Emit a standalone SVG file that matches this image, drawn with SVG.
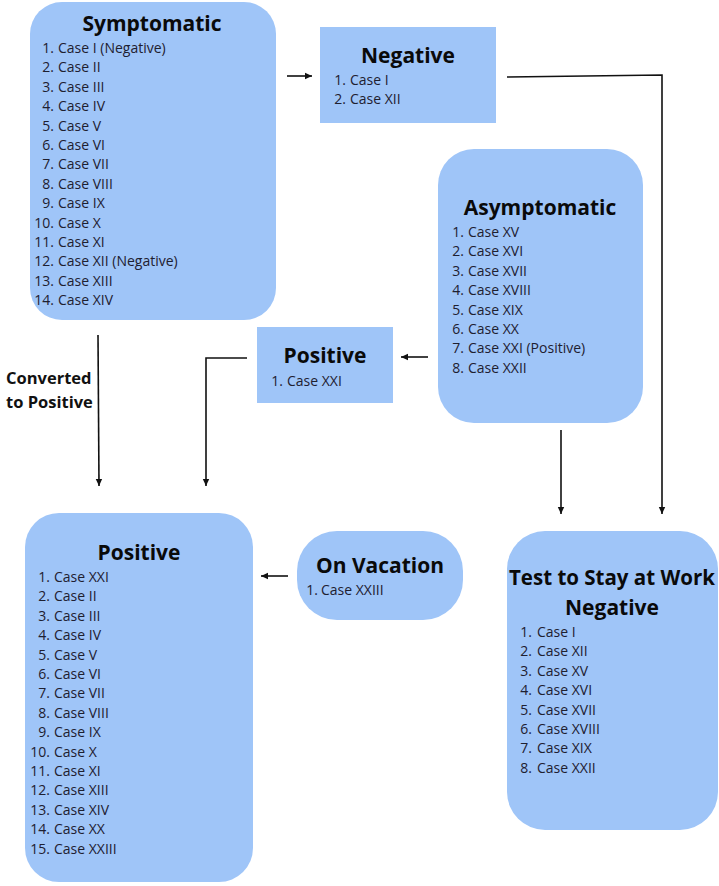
<svg xmlns="http://www.w3.org/2000/svg" width="719" height="886" viewBox="0 0 719 886">
<defs>
<marker id="ah" markerWidth="8" markerHeight="8" refX="7" refY="4" orient="auto" markerUnits="userSpaceOnUse">
<path d="M0,0.8 L7,4 L0,7.2 Z" fill="#111"/>
</marker>
<style>
.box{fill:#9fc5f8;}
.title{font-family:"Open Sans","Liberation Sans",sans-serif;font-weight:700;font-size:21px;fill:#0a0a0a;text-anchor:middle;}
.item{font-family:"Open Sans","Liberation Sans",sans-serif;font-size:14px;fill:#1e2030;}
.num{text-anchor:end;}
.lbl{font-family:"Open Sans","Liberation Sans",sans-serif;font-weight:700;font-size:16.5px;fill:#111;}
.con{stroke:#111;stroke-width:1.6;fill:none;}
</style>
</defs>
<rect width="719" height="886" fill="#ffffff"/>

<g id="connectors">
<line class="con" x1="287" y1="76" x2="312" y2="76" marker-end="url(#ah)"/>
<polyline class="con" points="507,77 662,75 662,514" marker-end="url(#ah)"/>
<line class="con" x1="428" y1="357" x2="401" y2="357" marker-end="url(#ah)"/>
<polyline class="con" points="247,358 206,358 206,486" marker-end="url(#ah)"/>
<line class="con" x1="98" y1="335" x2="99" y2="486" marker-end="url(#ah)"/>
<line class="con" x1="561" y1="430" x2="561" y2="514" marker-end="url(#ah)"/>
<line class="con" x1="288" y1="576" x2="261" y2="576" marker-end="url(#ah)"/>
<text class="lbl" x="6" y="384">Converted</text>
<text class="lbl" x="6" y="408">to Positive</text>
</g>

<g id="symptomatic">
<rect class="box" x="30" y="2" width="246" height="318" rx="32"/>
<text class="title" x="152" y="31">Symptomatic</text>
<g class="item">
<text class="num" x="54" y="53">1.</text><text x="58" y="53">Case I (Negative)</text>
<text class="num" x="54" y="72.4">2.</text><text x="58" y="72.4">Case II</text>
<text class="num" x="54" y="91.8">3.</text><text x="58" y="91.8">Case III</text>
<text class="num" x="54" y="111.2">4.</text><text x="58" y="111.2">Case IV</text>
<text class="num" x="54" y="130.6">5.</text><text x="58" y="130.6">Case V</text>
<text class="num" x="54" y="150">6.</text><text x="58" y="150">Case VI</text>
<text class="num" x="54" y="169.4">7.</text><text x="58" y="169.4">Case VII</text>
<text class="num" x="54" y="188.8">8.</text><text x="58" y="188.8">Case VIII</text>
<text class="num" x="54" y="208.2">9.</text><text x="58" y="208.2">Case IX</text>
<text class="num" x="54" y="227.6">10.</text><text x="58" y="227.6">Case X</text>
<text class="num" x="54" y="247">11.</text><text x="58" y="247">Case XI</text>
<text class="num" x="54" y="266.4">12.</text><text x="58" y="266.4">Case XII (Negative)</text>
<text class="num" x="54" y="285.8">13.</text><text x="58" y="285.8">Case XIII</text>
<text class="num" x="54" y="305.2">14.</text><text x="58" y="305.2">Case XIV</text>
</g>
</g>

<g id="negative">
<rect class="box" x="320" y="27" width="176" height="96"/>
<text class="title" x="408" y="63">Negative</text>
<g class="item">
<text class="num" x="346" y="85">1.</text><text x="350" y="85">Case I</text>
<text class="num" x="346" y="104.4">2.</text><text x="350" y="104.4">Case XII</text>
</g>
</g>

<g id="asymptomatic">
<rect class="box" x="438" y="149" width="205" height="274" rx="36"/>
<text class="title" x="540" y="215">Asymptomatic</text>
<g class="item">
<text class="num" x="464" y="237">1.</text><text x="468" y="237">Case XV</text>
<text class="num" x="464" y="256.4">2.</text><text x="468" y="256.4">Case XVI</text>
<text class="num" x="464" y="275.8">3.</text><text x="468" y="275.8">Case XVII</text>
<text class="num" x="464" y="295.2">4.</text><text x="468" y="295.2">Case XVIII</text>
<text class="num" x="464" y="314.6">5.</text><text x="468" y="314.6">Case XIX</text>
<text class="num" x="464" y="334">6.</text><text x="468" y="334">Case XX</text>
<text class="num" x="464" y="353.4">7.</text><text x="468" y="353.4">Case XXI (Positive)</text>
<text class="num" x="464" y="372.8">8.</text><text x="468" y="372.8">Case XXII</text>
</g>
</g>

<g id="positive-small">
<rect class="box" x="257" y="327" width="136" height="76"/>
<text class="title" x="325" y="363">Positive</text>
<g class="item">
<text class="num" x="283" y="386">1.</text><text x="287" y="386">Case XXI</text>
</g>
</g>

<g id="positive">
<rect class="box" x="25" y="513" width="228" height="369" rx="34"/>
<text class="title" x="139" y="560">Positive</text>
<g class="item">
<text class="num" x="50" y="582">1.</text><text x="54" y="582">Case XXI</text>
<text class="num" x="50" y="601.4">2.</text><text x="54" y="601.4">Case II</text>
<text class="num" x="50" y="620.8">3.</text><text x="54" y="620.8">Case III</text>
<text class="num" x="50" y="640.2">4.</text><text x="54" y="640.2">Case IV</text>
<text class="num" x="50" y="659.6">5.</text><text x="54" y="659.6">Case V</text>
<text class="num" x="50" y="679">6.</text><text x="54" y="679">Case VI</text>
<text class="num" x="50" y="698.4">7.</text><text x="54" y="698.4">Case VII</text>
<text class="num" x="50" y="717.8">8.</text><text x="54" y="717.8">Case VIII</text>
<text class="num" x="50" y="737.2">9.</text><text x="54" y="737.2">Case IX</text>
<text class="num" x="50" y="756.6">10.</text><text x="54" y="756.6">Case X</text>
<text class="num" x="50" y="776">11.</text><text x="54" y="776">Case XI</text>
<text class="num" x="50" y="795.4">12.</text><text x="54" y="795.4">Case XIII</text>
<text class="num" x="50" y="814.8">13.</text><text x="54" y="814.8">Case XIV</text>
<text class="num" x="50" y="834.2">14.</text><text x="54" y="834.2">Case XX</text>
<text class="num" x="50" y="853.6">15.</text><text x="54" y="853.6">Case XXIII</text>
</g>
</g>

<g id="on-vacation">
<rect class="box" x="297" y="531" width="166" height="89" rx="40"/>
<text class="title" x="380" y="573">On Vacation</text>
<g class="item">
<text class="num" x="318" y="595">1.</text><text x="321" y="595">Case XXIII</text>
</g>
</g>

<g id="test-to-stay">
<rect class="box" x="507" y="531" width="211" height="299" rx="38"/>
<text class="title" x="612" y="585" style="font-size:20.5px">Test to Stay at Work</text>
<text class="title" x="612" y="615">Negative</text>
<g class="item">
<text class="num" x="532" y="637">1.</text><text x="537" y="637">Case I</text>
<text class="num" x="532" y="656.4">2.</text><text x="537" y="656.4">Case XII</text>
<text class="num" x="532" y="675.8">3.</text><text x="537" y="675.8">Case XV</text>
<text class="num" x="532" y="695.2">4.</text><text x="537" y="695.2">Case XVI</text>
<text class="num" x="532" y="714.6">5.</text><text x="537" y="714.6">Case XVII</text>
<text class="num" x="532" y="734">6.</text><text x="537" y="734">Case XVIII</text>
<text class="num" x="532" y="753.4">7.</text><text x="537" y="753.4">Case XIX</text>
<text class="num" x="532" y="772.8">8.</text><text x="537" y="772.8">Case XXII</text>
</g>
</g>
</svg>
